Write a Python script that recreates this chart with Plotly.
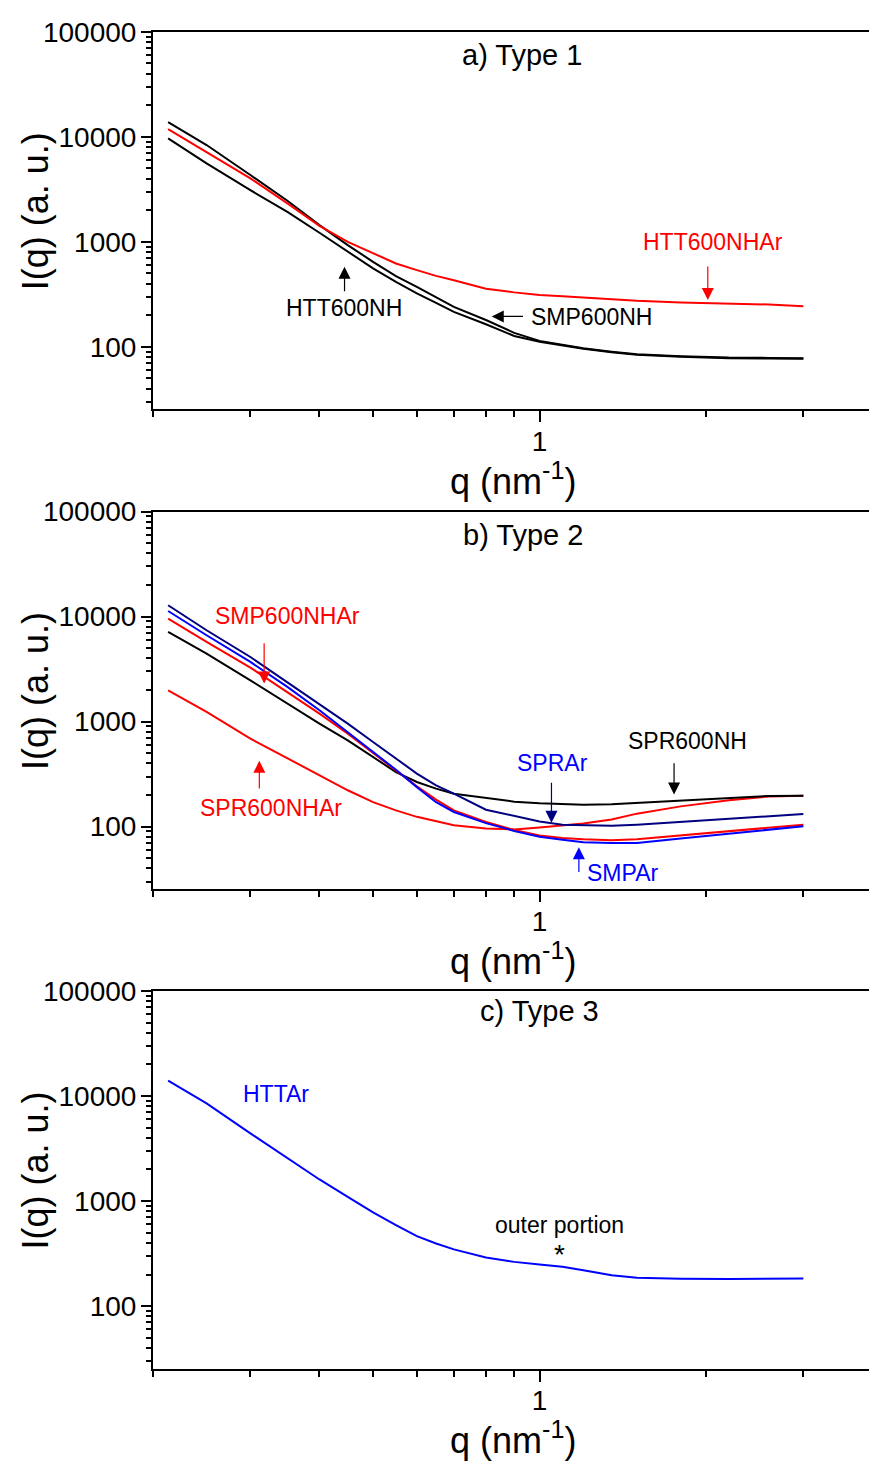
import math
import plotly.graph_objects as go

# Scattering vector q (nm^-1), shared by every curve
q = [0.213, 0.25, 0.3, 0.35, 0.4, 0.45, 0.5, 0.55, 0.6, 0.65, 0.7,
     0.8, 0.9, 1.0, 1.1, 1.2, 1.35, 1.5, 1.8, 2.2, 2.6, 3.0]

# a) Type 1
smp600nh = [13800, 8340, 4320, 2460, 1443, 931, 645, 471, 373, 299, 240,
            180, 136, 114, 104, 97, 90, 85, 81.5, 79, 78.5, 78]
htt600nh = [9660, 5580, 3100, 1930, 1219, 803, 558, 416, 323, 262, 215,
            164, 127, 112, 103, 96, 89, 84, 80.5, 78, 77.5, 77]
htt600nhar = [11830, 7200, 4020, 2320, 1420, 1000, 775, 622, 538, 474, 431,
              358, 330, 311, 304, 295, 285, 274, 265, 259, 253, 244]

# b) Type 2
sprar = [12820, 7410, 4120, 2380, 1483, 957, 640, 445, 320, 247, 206,
         145, 126, 112, 104.5, 103, 102, 104.5, 111, 119, 127, 132]
smpar = [11300, 6640, 3700, 2140, 1281, 796, 520, 348, 238, 171, 138,
         108, 91, 80, 75, 71, 70, 70, 77, 86, 94, 101]
smp600nhar = [9570, 5730, 3270, 1914, 1191, 769, 505, 340, 242, 181, 143,
              111, 93, 82.6, 77.9, 75.7, 74.1, 75.7, 82.6, 90.2, 97.8, 104.5]
spr600nh = [7130, 4440, 2470, 1483, 957, 663, 460, 331, 266, 230, 206,
            188, 173, 167, 163, 162, 163, 168, 178, 189, 196, 197]
spr600nhar = [1986, 1235, 689, 445, 308, 222, 171, 143, 124, 112, 103,
              96, 94, 98, 103, 107, 117, 133, 156, 178, 194, 197]

# c) Type 3
httar = [14000, 8510, 4410, 2550, 1607, 1099, 780, 591, 464, 395, 347,
         291, 264, 249, 237, 220, 197, 186, 182, 181, 182, 183]

# Axis ticks
x_major = [1]
x_major_text = ["1"]
x_minor = [0.2, 0.3, 0.4, 0.5, 0.6, 0.7, 0.8, 0.9, 2, 3]
y_major = [100, 1000, 10000, 100000]
y_major_text = ["100", "1000", "10000", "100000"]
y_minor = [m * 10 ** e for e in range(1, 5) for m in range(2, 10) if m * 10 ** e > 25.5]

panel_titles = ["a) Type 1", "b) Type 2", "c) Type 3"]

RED = "#FF0000"
BLACK = "#000000"
BLUE = "#0000FF"
NAVY = "#000080"
FONT = "Liberation Sans, Arial, sans-serif"

W, H = 869, 1461
LEFT = 153
PLOT_W = W - LEFT
X_RANGE = [math.log10(0.2), 0.5958]
Y_RANGE = [math.log10(25.5), 5]
panel_tops = [31.7, 511.5, 991.0]   # px from top of page
panel_h = 377.5

fig = go.Figure()

series = [
    (1, smp600nh, BLACK), (1, htt600nh, BLACK), (1, htt600nhar, RED),
    (2, spr600nhar, RED), (2, spr600nh, BLACK), (2, smp600nhar, RED),
    (2, smpar, BLUE), (2, sprar, NAVY),
    (3, httar, BLUE),
]
for panel, values, color in series:
    sfx = "" if panel == 1 else str(panel)
    fig.add_trace(go.Scatter(
        x=q, y=values, mode="lines",
        line=dict(color=color, width=2),
        xaxis="x" + sfx, yaxis="y" + sfx, showlegend=False, hoverinfo="skip"))

layout_axes = {}
for i, top in enumerate(panel_tops):
    sfx = "" if i == 0 else str(i + 1)
    dom = [1 - (top + panel_h) / H, 1 - top / H]
    layout_axes["xaxis" + sfx] = dict(
        type="log", range=X_RANGE, domain=[0, 1], anchor="y" + sfx,
        showline=True, linecolor="black", linewidth=2, mirror=True,
        ticks="outside", ticklen=11, tickwidth=1.5, tickcolor="black",
        tickvals=x_major, ticktext=x_major_text, ticklabelstandoff=-5,
        tickfont=dict(family=FONT, size=28, color="black"),
        minor=dict(tickvals=x_minor, ticks="outside", ticklen=6,
                   tickwidth=1.5, tickcolor="black", showgrid=False),
        showgrid=False, zeroline=False, fixedrange=True)
    layout_axes["yaxis" + sfx] = dict(
        type="log", range=Y_RANGE, domain=dom, anchor="x" + sfx,
        showline=True, linecolor="black", linewidth=2, mirror=False,
        ticks="outside", ticklen=10, tickwidth=1.5, tickcolor="black",
        tickvals=y_major, ticktext=y_major_text, ticklabelstandoff=-1,
        tickfont=dict(family=FONT, size=28, color="black"),
        minor=dict(tickvals=y_minor, ticks="outside", ticklen=5,
                   tickwidth=1.5, tickcolor="black", showgrid=False),
        showgrid=False, zeroline=False, fixedrange=True)

L = math.log10
ann = []


def label(panel, qx, iy, text, color, size=23):
    sfx = "" if panel == 1 else str(panel)
    ann.append(dict(x=L(qx), y=L(iy), xref="x" + sfx, yref="y" + sfx,
                    text=text, showarrow=False, xanchor="center", yanchor="middle",
                    font=dict(family=FONT, size=size, color=color)))


def arrow(panel, q_tip, i_tip, q_tail, i_tail, color):
    sfx = "" if panel == 1 else str(panel)
    ann.append(dict(x=L(q_tip), y=L(i_tip), ax=L(q_tail), ay=L(i_tail),
                    xref="x" + sfx, yref="y" + sfx, axref="x" + sfx, ayref="y" + sfx,
                    text="", showarrow=True, arrowhead=2, arrowsize=2,
                    arrowwidth=1.2, arrowcolor=color, standoff=0, startstandoff=0))


# panel titles
for i, (t, (qx, iy)) in enumerate(zip(panel_titles, [(0.928, 60000), (0.935, 59700), (0.998, 64600)])):
    label(i + 1, qx, iy, t, "black", size=29)

# a) labels
label(1, 2.06, 1000, "HTT600NHAr", RED)
arrow(1, 2.015, 279, 2.015, 600, RED)
label(1, 0.443, 234, "HTT600NH", BLACK)
arrow(1, 0.444, 578, 0.444, 327, BLACK)
label(1, 1.242, 192, "SMP600NH", BLACK)
arrow(1, 0.8196, 195, 0.9394, 195, BLACK)

# b) labels
label(2, 0.350, 10230, "SMP600NHAr", RED)
arrow(2, 0.3177, 2310, 0.3177, 5750, RED)
label(2, 0.3267, 150, "SPR600NHAr", RED)
arrow(2, 0.3114, 424, 0.3114, 223, RED)
label(2, 1.056, 400, "SPRAr", BLUE)
arrow(2, 1.051, 109, 1.051, 271, NAVY)
label(2, 1.848, 652, "SPR600NH", BLACK)
arrow(2, 1.751, 202, 1.751, 414, BLACK)
label(2, 1.413, 36.5, "SMPAr", BLUE)
arrow(2, 1.178, 63.8, 1.178, 35.8, BLUE)

# c) labels
label(3, 0.3344, 10450, "HTTAr", BLUE)
label(3, 1.088, 590, "outer portion", BLACK)
label(3, 1.087, 313, "*", BLACK, size=28)

# axis titles (paper x is measured from the plot area's left edge)
for top in panel_tops:
    ann.append(dict(x=(35 - LEFT) / PLOT_W, y=1 - (top + 179.5) / H,
                    xref="paper", yref="paper",
                    text="I(q) (a. u.)", textangle=-90, showarrow=False,
                    xanchor="center", yanchor="middle",
                    font=dict(family=FONT, size=36, color="black")))
    ann.append(dict(x=(513 - LEFT) / PLOT_W, y=1 - (top + 447) / H,
                    xref="paper", yref="paper",
                    text="q (nm<sup>-1</sup>)", showarrow=False,
                    xanchor="center", yanchor="middle",
                    font=dict(family=FONT, size=36, color="black")))

fig.update_layout(
    width=W, height=H,
    margin=dict(l=LEFT, r=0, t=0, b=0, autoexpand=False),
    paper_bgcolor="white", plot_bgcolor="white",
    font=dict(family=FONT, color="black"),
    annotations=ann, showlegend=False,
    **layout_axes)

fig.write_html("out.html", config={"displayModeBar": False})
